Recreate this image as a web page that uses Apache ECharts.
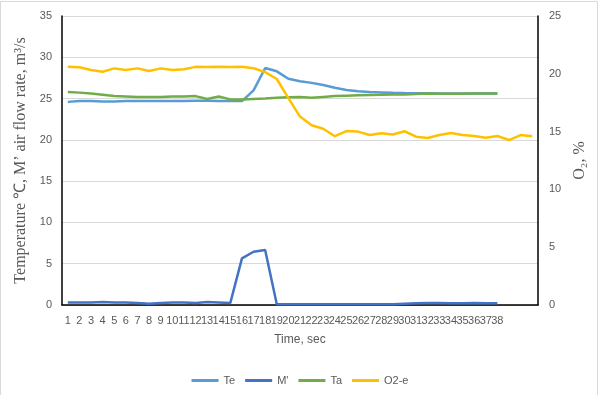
<!DOCTYPE html>
<html>
<head>
<meta charset="utf-8">
<script src="https://cdn.jsdelivr.net/npm/echarts@6/dist/echarts.min.js"></script>
<style>html,body{margin:0;padding:0;background:#fff}#c{width:600px;height:395px}</style>
</head>
<body>
<div id="c"></div>
<script>
const categories = ['1','2','3','4','5','6','7','8','9','10','11','12','13','14','15','16','17','18','19','20','21','22','23','24','25','26','27','28','29','30','31','32','33','34','35','36','37','38','','',''];
const te = [24.6,24.7,24.7,24.65,24.65,24.7,24.7,24.7,24.7,24.7,24.7,24.75,24.75,24.7,24.7,24.7,26.0,28.7,28.3,27.4,27.1,26.9,26.65,26.3,26.05,25.9,25.8,25.75,25.7,25.67,25.65,25.63,25.6,25.6,25.6,25.6,25.6,25.6];
const mFlow = [0.3,0.3,0.3,0.35,0.3,0.3,0.25,0.15,0.25,0.3,0.3,0.25,0.35,0.3,0.25,5.65,6.45,6.65,0.1,0.1,0.1,0.1,0.1,0.1,0.1,0.1,0.1,0.1,0.1,0.15,0.2,0.25,0.25,0.2,0.2,0.25,0.2,0.2];
const ta = [25.8,25.72,25.6,25.45,25.3,25.25,25.2,25.2,25.2,25.25,25.25,25.3,24.95,25.25,24.9,24.9,24.95,25.0,25.1,25.15,25.2,25.1,25.2,25.3,25.35,25.4,25.43,25.45,25.48,25.5,25.55,25.6,25.58,25.58,25.58,25.6,25.6,25.6];
const o2e = [20.62,20.57,20.33,20.18,20.47,20.33,20.47,20.25,20.47,20.33,20.4,20.6,20.58,20.6,20.58,20.6,20.48,20.15,19.55,17.9,16.3,15.55,15.25,14.6,15.05,15.0,14.7,14.85,14.75,15.03,14.56,14.45,14.7,14.88,14.7,14.62,14.47,14.62,14.27,14.7,14.6];
const leftTicks = {min: 0, max: 35, interval: 5};
const rightTicks = {min: 0, max: 25, interval: 5};

const txt = '#595959';
const chart = echarts.init(document.getElementById('c'), null, {renderer: 'canvas'});
chart.setOption({
  animation: false,
  backgroundColor: '#fff',
  graphic: [{
    type: 'rect', shape: {x: 0.5, y: 1.5, width: 597, height: 400},
    style: {fill: 'none', stroke: '#d9d9d9', lineWidth: 1}, silent: true
  }],
  grid: {left: 62, right: 62, top: 16, bottom: 90},
  legend: {
    top: 370, left: 'center',
    icon: 'rect',
    itemWidth: 27, itemHeight: 3, itemGap: 10,
    textStyle: {color: txt, fontSize: 11, fontFamily: 'Liberation Sans'},
    data: ['Te', 'M\'', 'Ta', 'O2-e']
  },
  xAxis: [{
    type: 'category', data: categories, boundaryGap: true,
    name: 'Time, sec', nameLocation: 'middle', nameGap: 29,
    nameTextStyle: {color: txt, fontSize: 12, fontFamily: 'Liberation Sans'},
    axisLine: {lineStyle: {color: '#bfbfbf', width: 1}},
    axisTick: {show: false},
    axisLabel: {interval: 0, color: txt, fontSize: 11, fontFamily: 'Liberation Sans', margin: 10},
    splitLine: {show: false}
  }, {
    type: 'category', data: categories, position: 'top',
    axisLine: {lineStyle: {color: '#000', width: 1.5}},
    axisTick: {show: false}, axisLabel: {show: false}, splitLine: {show: false}
  }],
  yAxis: [{
    type: 'value', min: leftTicks.min, max: leftTicks.max, interval: leftTicks.interval,
    name: 'Temperature ℃, M’ air flow rate, m³/s', nameLocation: 'middle', nameGap: 27,
    nameTextStyle: {color: txt, fontSize: 16, fontFamily: 'Liberation Serif'},
    axisLine: {show: true, lineStyle: {color: '#000', width: 1.5}},
    axisTick: {show: false},
    axisLabel: {color: txt, fontSize: 11, fontFamily: 'Liberation Sans', margin: 10},
    splitLine: {lineStyle: {color: '#d9d9d9', width: 1}}
  }, {
    type: 'value', min: rightTicks.min, max: rightTicks.max, interval: rightTicks.interval,
    position: 'right',
    name: 'O₂, %', nameLocation: 'middle', nameGap: 32,
    nameTextStyle: {color: txt, fontSize: 16, fontFamily: 'Liberation Serif'},
    axisLine: {show: true, lineStyle: {color: '#000', width: 1.5}},
    axisTick: {show: false},
    axisLabel: {color: txt, fontSize: 11, fontFamily: 'Liberation Sans', margin: 11},
    splitLine: {show: false}
  }],
  series: [
    {name: 'Te', type: 'line', data: te, yAxisIndex: 0, symbol: 'none', lineStyle: {width: 2.5, color: '#5B9BD5'}, itemStyle: {color: '#5B9BD5'}},
    {name: 'M\'', type: 'line', data: mFlow, yAxisIndex: 0, symbol: 'none', lineStyle: {width: 2.5, color: '#4472C4'}, itemStyle: {color: '#4472C4'}},
    {name: 'Ta', type: 'line', data: ta, yAxisIndex: 0, symbol: 'none', lineStyle: {width: 2.5, color: '#70AD47'}, itemStyle: {color: '#70AD47'}},
    {name: 'O2-e', type: 'line', data: o2e, yAxisIndex: 1, symbol: 'none', lineStyle: {width: 2.5, color: '#FFC000'}, itemStyle: {color: '#FFC000'}}
  ]
});
</script>
</body>
</html>
